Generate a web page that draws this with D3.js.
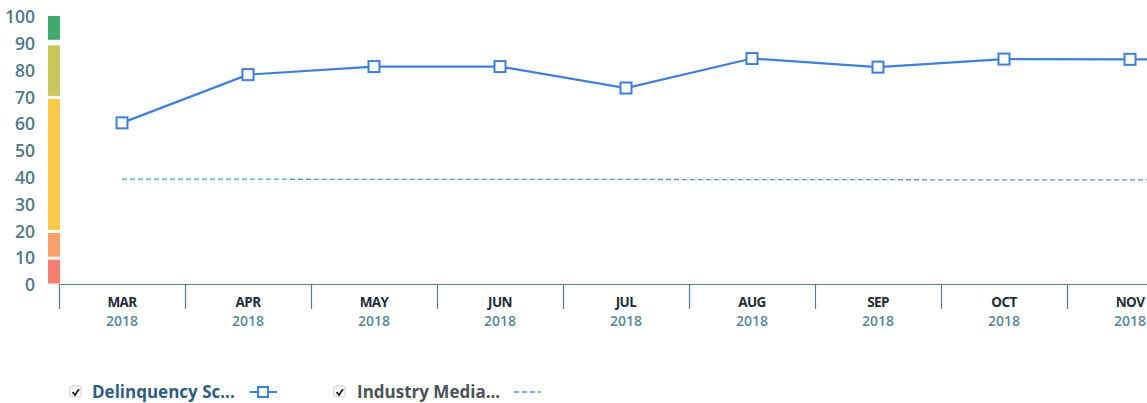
<!DOCTYPE html>
<html><head><meta charset="utf-8">
<script src="https://cdn.jsdelivr.net/npm/d3@7"></script>
<style>body{margin:0;background:#fff;font-family:"Open Sans",sans-serif;}</style>
</head><body><svg id="c" width="1147" height="403"></svg>
<script>
const months = ["MAR","APR","MAY","JUN","JUL","AUG","SEP","OCT","NOV"];
const years = ["2018","2018","2018","2018","2018","2018","2018","2018","2018"];
const scores = [60.5, 78.5, 81.5, 81.5, 73.5, 84.5, 81.3, 84.3, 84.2];
const median = [39.5, 39.5, 39.4, 39.4, 39.4, 39.3, 39.3, 39.2, 39.2];
const yTicks = [0,10,20,30,40,50,60,70,80,90,100];
const bands = [{from:90,to:100,color:"#3fa96e"},{from:70,to:90,color:"#c9c85c"},{from:20,to:70,color:"#fbc94a"},{from:10,to:20,color:"#f8a068"},{from:0,to:10,color:"#f57f70"}];

const svg = d3.select("#c");
const y = d3.scaleLinear().domain([0,100]).range([285,17]);
const x = d3.scaleBand().domain(months).range([59,59+126*9]);
const cx = m => x(m)+x.bandwidth()/2;

// y labels
svg.append("g").selectAll("text").data(yTicks).join("text")
  .attr("x",35).attr("y",d=>y(d)).attr("dy","0.35em").attr("text-anchor","end")
  .attr("font-size",17.5).attr("font-weight",600).attr("fill","#52788a").text(d=>d);

// color bar
svg.append("g").selectAll("rect").data(bands).join("rect")
  .attr("x",48).attr("width",12)
  .attr("y",d=>y(d.to)+ (d.to===100?-1:1.5)).attr("height",d=>y(d.from)-y(d.to)-3)
  .attr("fill",d=>d.color);

// x axis
const ax = svg.append("g");
ax.append("line").attr("x1",59).attr("x2",1147).attr("y1",284.5).attr("y2",284.5).attr("stroke","#5f7d86").attr("stroke-width",1.2);
ax.selectAll("line.t").data(months).join("line").attr("class","t")
  .attr("x1",d=>x(d)+0.5).attr("x2",d=>x(d)+0.5).attr("y1",284).attr("y2",309)
  .attr("stroke","#5f7d86").attr("stroke-width",1.2);
ax.selectAll("text.m").data(months).join("text").attr("class","m")
  .attr("x",cx).attr("y",307).attr("text-anchor","middle").attr("font-size",13.5)
  .attr("font-weight","bold").attr("fill","#1f2d38").attr("letter-spacing","-0.6").text(d=>d);
ax.selectAll("text.yr").data(months).join("text").attr("class","yr")
  .attr("x",cx).attr("y",326).attr("text-anchor","middle").attr("font-size",14)
  .attr("font-weight",600).attr("fill","#5a8896").text((d,i)=>years[i]);

// median dashed
const lineM = d3.line().x((d,i)=>cx(months[i])).y(d=>y(d));
svg.append("path").datum(median).attr("d",lineM).attr("fill","none")
  .attr("stroke","#5b93d6").attr("stroke-width",1.3).attr("stroke-dasharray","5,3");
svg.append("line").attr("x1",cx("NOV")).attr("x2",1147).attr("y1",y(median[8])).attr("y2",y(median[8]))
  .attr("stroke","#5b93d6").attr("stroke-width",1.3).attr("stroke-dasharray","5,3");

// score line
const lineS = d3.line().x((d,i)=>cx(months[i])).y(d=>y(d));
svg.append("path").datum(scores).attr("d",lineS).attr("fill","none")
  .attr("stroke","#3f7fd9").attr("stroke-width",2.2);
svg.append("line").attr("x1",cx("NOV")).attr("x2",1147).attr("y1",y(scores[8])).attr("y2",y(scores[8]))
  .attr("stroke","#3f7fd9").attr("stroke-width",2.2);
svg.append("g").selectAll("rect").data(scores).join("rect")
  .attr("x",(d,i)=>cx(months[i])-5.5).attr("y",d=>y(d)-5.5).attr("width",11).attr("height",11)
  .attr("fill","#fff").attr("stroke","#3f7fd9").attr("stroke-width",2);

// legend
function checkbox(g,xx){
  g.append("rect").attr("x",xx).attr("y",386).attr("width",11).attr("height",11).attr("rx",2)
   .attr("fill","#fff").attr("stroke","#ccc");
  g.append("path").attr("d",`M${xx+2.5},${392} l2.5,3 l4,-6`).attr("fill","none").attr("stroke","#222").attr("stroke-width",1.8);
}
const lg = svg.append("g");
checkbox(lg,70);
lg.append("text").attr("x",92).attr("y",398).attr("font-size",17).attr("font-weight","bold").attr("fill","#2e5d80").text("Delinquency Sc...");
lg.append("line").attr("x1",250).attr("x2",277).attr("y1",392).attr("y2",392).attr("stroke","#3f7fd9").attr("stroke-width",2);
lg.append("rect").attr("x",258).attr("y",387).attr("width",10).attr("height",10).attr("fill","#fff").attr("stroke","#3f7fd9").attr("stroke-width",2);
checkbox(lg,334);
lg.append("text").attr("x",357).attr("y",398).attr("font-size",17).attr("font-weight","bold").attr("fill","#4d5358").text("Industry Media...");
lg.append("line").attr("x1",514).attr("x2",541).attr("y1",392).attr("y2",392).attr("stroke","#5b93d6").attr("stroke-width",1.3).attr("stroke-dasharray","5,3");
</script></body></html>
